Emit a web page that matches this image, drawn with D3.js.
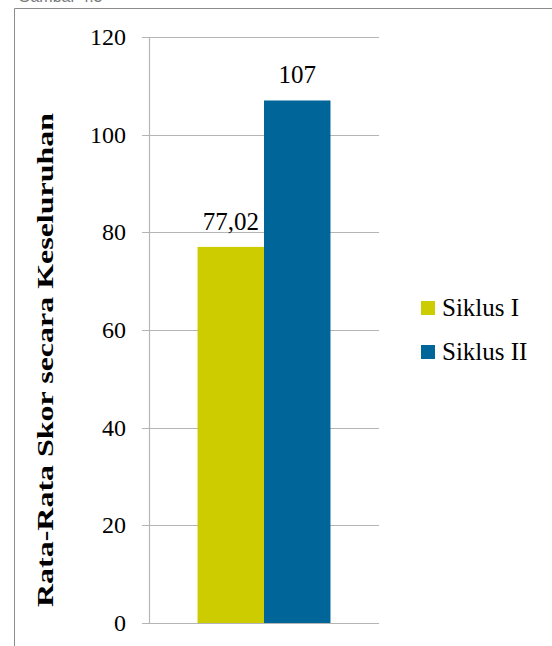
<!DOCTYPE html>
<html>
<head>
<meta charset="utf-8">
<script src="https://cdn.jsdelivr.net/npm/d3@7"></script>
<style>
  body { margin: 0; background: #fff; }
  svg text { font-family: "Liberation Serif", "Times New Roman", serif; fill: #000; }
</style>
</head>
<body>
<div id="container"></div>
<script>
const categories = ['']
const seriesNames = ['Siklus I', 'Siklus II']
const seriesValues = [77.02, 107]
const valueLabels = ['77,02', '107']
const seriesColors = ['#cccc00', '#006699']
const yTicks = [0, 20, 40, 60, 80, 100, 120]
const yTitle = 'Rata-Rata Skor secara Keseluruhan'

const specs = { width: 552, height: 646, margin: { top: 37, right: 173, bottom: 23, left: 149 } }

const svg = d3.select('#container')
    .append('svg').attr('width', specs.width).attr('height', specs.height)

// caption cut off at the top of the scan
svg.append('text')
    .attr('x', 18).attr('y', 2)
    .style('font-family', 'Liberation Sans, Arial, sans-serif')
    .style('font-size', '16px').style('fill', '#777')
    .text('Gambar 4.3')

// outer frame of the chart
svg.append('path')
    .attr('d', `M14.5,${specs.height} V8.5 H${specs.width}`)
    .attr('fill', 'none').attr('stroke', '#8c8c8c').attr('stroke-width', 1)

const x0 = specs.margin.left
const x1 = specs.width - specs.margin.right
const yScale = d3.scaleLinear().domain([0, 120]).range([specs.height - specs.margin.bottom, specs.margin.top])
const xCat = d3.scaleBand().domain(categories).range([x0, x1]).paddingInner(0).paddingOuter(0.365)
const xSer = d3.scaleBand().domain(seriesNames).range([0, xCat.bandwidth()]).padding(0)

// gridlines
svg.append('g').selectAll('line').data(yTicks).join('line')
    .attr('x1', x0 - 7).attr('x2', x1)
    .attr('y1', d => Math.round(yScale(d)) + 0.5).attr('y2', d => Math.round(yScale(d)) + 0.5)
    .attr('stroke', '#b5b5b5').attr('stroke-width', 1.2)

// y axis line
svg.append('line')
    .attr('x1', x0 + 0.5).attr('x2', x0 + 0.5)
    .attr('y1', yScale(120)).attr('y2', yScale(0))
    .attr('stroke', '#b5b5b5').attr('stroke-width', 1.2)

svg.append('g').selectAll('text').data(yTicks).join('text')
    .attr('x', 126).attr('y', d => yScale(d))
    .attr('dy', '0.34em').attr('text-anchor', 'end')
    .style('font-size', '24px')
    .text(d => d)

// bars
const bars = svg.append('g')
bars.selectAll('rect').data(seriesValues).join('rect')
    .attr('x', (d, i) => xCat(categories[0]) + xSer(seriesNames[i]))
    .attr('width', xSer.bandwidth())
    .attr('y', d => yScale(d))
    .attr('height', d => yScale(0) - yScale(d))
    .attr('fill', (d, i) => seriesColors[i])

bars.selectAll('text').data(seriesValues).join('text')
    .attr('x', (d, i) => xCat(categories[0]) + xSer(seriesNames[i]) + xSer.bandwidth() / 2)
    .attr('y', d => yScale(d) - 17)
    .attr('text-anchor', 'middle')
    .style('font-size', '25px')
    .text((d, i) => valueLabels[i])

// axis title
svg.append('text')
    .attr('transform', `translate(53,360) rotate(-90)`)
    .attr('text-anchor', 'middle')
    .attr('textLength', 494).attr('lengthAdjust', 'spacingAndGlyphs')
    .style('font-size', '24px').style('font-weight', 'bold')
    .text(yTitle)

// legend
const legend = svg.append('g').selectAll('g').data(seriesNames).join('g')
    .attr('transform', (d, i) => `translate(421,${301 + i * 44})`)
legend.append('rect').attr('width', 14).attr('height', 14).attr('fill', (d, i) => seriesColors[i])
legend.append('text').attr('x', 21).attr('y', 15).style('font-size', '25px').text(d => d)
</script>
</body>
</html>
